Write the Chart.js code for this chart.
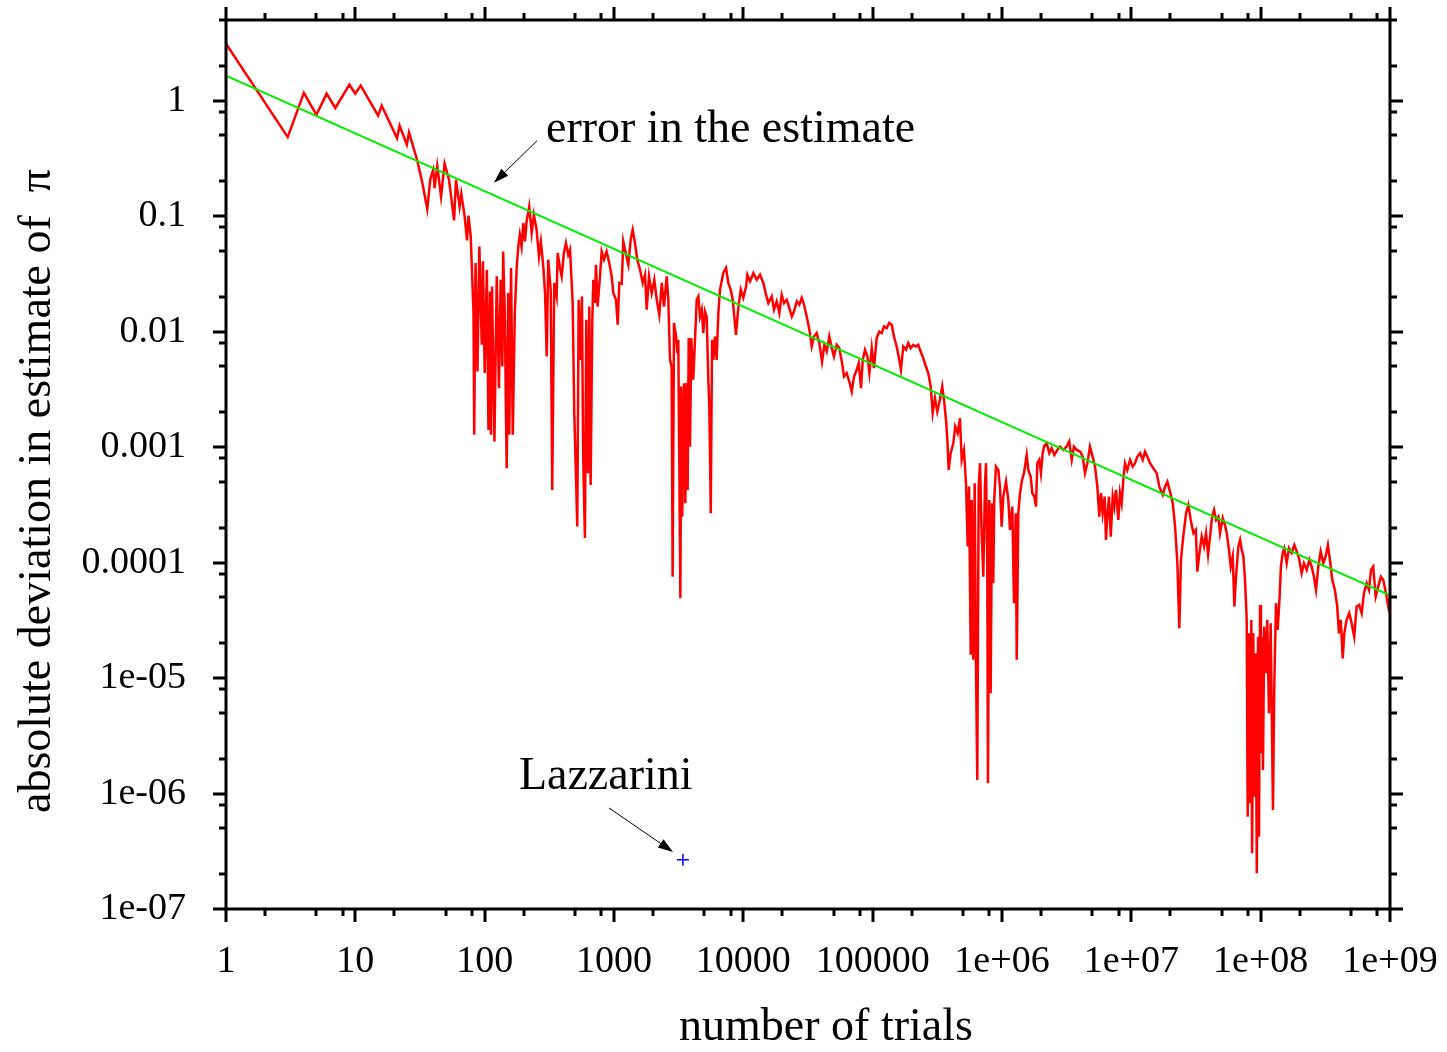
<!DOCTYPE html>
<html>
<head>
<meta charset="utf-8">
<script src="https://cdn.jsdelivr.net/npm/chart.js@4.4.0/dist/chart.umd.min.js"></script>
<style>
  html, body { margin: 0; padding: 0; background: #fff; }
</style>
</head>
<body>
<canvas id="myChart" width="1447" height="1052"></canvas>
<script>
// 試行回数と誤差
const trials = [
  1, 3, 4, 5, 6, 7, 9, 10, 11, 15,
  16, 21, 22, 25, 26, 30, 33, 36, 38, 40,
  41, 43, 46, 49, 53, 58, 60, 64, 66, 70,
  73, 75, 78, 82, 83, 85, 88, 91, 95, 97,
  100, 104, 107, 110, 112, 114, 119, 124, 129, 133,
  137, 139, 143, 148, 152, 155, 160, 165, 171, 177,
  182, 187, 193, 199, 205, 211, 221, 231, 240, 252,
  263, 272, 284, 293, 302, 310, 324, 333, 345, 360,
  367, 382, 394, 410, 425, 443, 457, 479, 493, 505,
  520, 533, 552, 565, 578, 596, 610, 629, 644, 660,
  679, 692, 713, 725, 747, 779, 803, 837, 877, 919,
  960, 987, 1036, 1068, 1099, 1147, 1180, 1232, 1290, 1346,
  1395, 1453, 1514, 1589, 1667, 1737, 1790, 1865, 1957, 2050,
  2140, 2240, 2340, 2436, 2555, 2630, 2710, 2790, 2840, 2910,
  3020, 3090, 3140, 3200, 3260, 3310, 3370, 3480, 3560, 3650,
  3710, 3780, 3870, 3960, 4100, 4230, 4360, 4490, 4620, 4770,
  4900, 5050, 5210, 5360, 5460, 5600, 5730, 5860, 6040, 6220,
  6410, 6600, 7000, 7350, 7650, 7990, 8280, 8770, 9140, 9550,
  10000, 10490, 10740, 11270, 11950, 12700, 13460, 14280, 14980, 15610,
  16580, 17270, 18100, 19000, 19800, 20640, 21660, 22700, 23700, 24660,
  25900, 27100, 28300, 29500, 30900, 32400, 33800, 35200, 36900, 38700,
  40600, 42300, 44200, 46200, 48300, 50200, 52700, 55200, 58000, 60000,
  63000, 66000, 68900, 71800, 75300, 78000, 81300, 83800, 87300, 91000,
  94300, 98400, 102300, 107400, 112500, 117400, 122300, 128300, 134300, 140300,
  146100, 153300, 160600, 165500, 172400, 181000, 188500, 196700, 206000, 216000,
  225000, 235000, 246000, 258000, 269000, 281000, 291000, 303000, 316000, 331000,
  345000, 356000, 369000, 378000, 387000, 401000, 420000, 435000, 454000, 473000,
  488000, 508000, 527000, 543000, 556000, 573000, 583000, 600000, 615000, 629000,
  644000, 660000, 676000, 696000, 717000, 738000, 752000, 769000, 779000, 797000,
  817000, 837000, 856000, 871000, 898000, 936000, 964000, 994000, 1.023e6, 1.074e6,
  1.119e6, 1.153e6, 1.201e6, 1.238e6, 1.276e6, 1.3e6, 1.337e6, 1.378e6, 1.428e6, 1.479e6,
  1.552e6, 1.597e6, 1.667e6, 1.715e6, 1.778e6, 1.832e6, 1.875e6, 1.942e6, 2.0e6, 2.064e6,
  2.11e6, 2.216e6, 2.32e6, 2.42e6, 2.54e6, 2.68e6, 2.81e6, 2.98e6, 3.16e6, 3.31e6,
  3.46e6, 3.6e6, 3.78e6, 4.01e6, 4.21e6, 4.38e6, 4.57e6, 4.79e6, 5.02e6, 5.24e6,
  5.46e6, 5.65e6, 5.83e6, 6.0e6, 6.22e6, 6.37e6, 6.52e6, 6.72e6, 6.93e6, 7.18e6,
  7.38e6, 7.61e6, 7.93e6, 8.17e6, 8.42e6, 8.67e6, 8.93e6, 9.31e6, 9.77e6, 1.025e7,
  1.068e7, 1.113e7, 1.168e7, 1.225e7, 1.276e7, 1.33e7, 1.395e7, 1.479e7, 1.572e7, 1.646e7,
  1.749e7, 1.822e7, 1.9e7, 1.99e7, 2.09e7, 2.18e7, 2.27e7, 2.35e7, 2.42e7, 2.52e7,
  2.65e7, 2.76e7, 2.88e7, 3.02e7, 3.15e7, 3.24e7, 3.36e7, 3.5e7, 3.65e7, 3.78e7,
  3.92e7, 4.06e7, 4.21e7, 4.36e7, 4.52e7, 4.71e7, 4.85e7, 5.09e7, 5.3e7, 5.47e7,
  5.69e7, 5.87e7, 6.08e7, 6.26e7, 6.45e7, 6.72e7, 6.93e7, 7.14e7, 7.35e7, 7.57e7,
  7.8e7, 7.94e7, 8.13e7, 8.28e7, 8.47e7, 8.58e7, 8.77e7, 8.93e7, 9.16e7, 9.33e7,
  9.55e7, 9.71e7, 9.89e7, 1.005e8, 1.023e8, 1.042e8, 1.066e8, 1.099e8, 1.125e8, 1.159e8,
  1.195e8, 1.223e8, 1.245e8, 1.274e8, 1.313e8, 1.353e8, 1.393e8, 1.435e8, 1.479e8, 1.522e8,
  1.589e8, 1.655e8, 1.737e8, 1.82e8, 1.9e8, 1.98e8, 2.075e8, 2.16e8, 2.27e8, 2.38e8,
  2.48e8, 2.58e8, 2.68e8, 2.79e8, 2.91e8, 3.05e8, 3.18e8, 3.31e8, 3.43e8, 3.58e8,
  3.75e8, 3.91e8, 4.03e8, 4.16e8, 4.31e8, 4.43e8, 4.62e8, 4.84e8, 5.05e8, 5.29e8,
  5.52e8, 5.78e8, 6.04e8, 6.29e8, 6.6e8, 6.88e8, 7.13e8, 7.42e8, 7.75e8, 8.11e8,
  8.51e8, 8.87e8, 9.31e8, 9.7e8, 1e9
];
const errors = [
  3.12, 0.484, 1.17, 0.756, 1.15, 0.865, 1.376, 1.15, 1.35, 0.742,
  0.905, 0.475, 0.607, 0.416, 0.531, 0.308, 0.194, 0.115, 0.21, 0.252,
  0.175, 0.273, 0.148, 0.285, 0.207, 0.092, 0.207, 0.121, 0.156, 0.0995,
  0.0616, 0.101, 0.0668, 0.0146, 0.00128, 0.0393, 0.00452, 0.0547, 0.00769, 0.0406,
  0.00438, 0.0344, 0.00141, 0.0223, 0.00128, 0.0246, 0.00112, 0.0301, 0.00324, 0.0282,
  0.00499, 0.0495, 0.0145, 0.000657, 0.0216, 0.00128, 0.0356, 0.00128, 0.0145, 0.0367,
  0.0547, 0.0691, 0.0547, 0.0873, 0.0604, 0.0901, 0.121, 0.0715, 0.103, 0.0763,
  0.0448, 0.0604, 0.0367, 0.0216, 0.0061, 0.042, 0.0231, 0.000426, 0.0264, 0.0202,
  0.048, 0.0356, 0.0301, 0.048, 0.0586, 0.0464, 0.0512, 0.0177, 0.00197, 0.000726,
  0.000205, 0.0189, 0.0057, 0.0202, 0.000776, 0.000163, 0.0127, 0.000595, 0.0165, 0.000471,
  0.0119, 0.0282, 0.0177, 0.038, 0.0165, 0.0301, 0.0495, 0.042, 0.0495, 0.0393,
  0.0301, 0.0216, 0.0189, 0.0115, 0.0264, 0.026, 0.0604, 0.048, 0.038, 0.0625,
  0.0763, 0.0586, 0.042, 0.0344, 0.0264, 0.0311, 0.0155, 0.0301, 0.0216, 0.0282,
  0.0189, 0.014, 0.0264, 0.0165, 0.0301, 0.0189, 0.0057, 0.00499, 7.55e-5, 0.0119,
  0.00908, 0.00652, 0.0085, 0.000679, 4.91e-5, 0.00335, 0.00025, 0.00358, 0.000327, 0.0036,
  0.000426, 0.00879, 0.00101, 0.0088, 0.00383, 0.0085, 0.0189, 0.0202, 0.0135, 0.0155,
  0.00972, 0.015, 0.0135, 0.00383, 0.00225, 0.000268, 0.0085, 0.0057, 0.00908, 0.0057,
  0.0145, 0.0231, 0.0322, 0.0356, 0.0264, 0.0231, 0.0189, 0.00939, 0.016, 0.0231,
  0.0196, 0.0246, 0.0311, 0.0272, 0.0322, 0.0282, 0.0311, 0.0264, 0.0209, 0.0177,
  0.0202, 0.0155, 0.0183, 0.0145, 0.0209, 0.0177, 0.0189, 0.016, 0.0135, 0.015,
  0.0183, 0.0171, 0.0196, 0.0171, 0.0135, 0.0104, 0.00744, 0.00908, 0.00972, 0.00796,
  0.00551, 0.00769, 0.00673, 0.00908, 0.0072, 0.0061, 0.00769, 0.0072, 0.00534, 0.00409,
  0.00438, 0.0037, 0.00303, 0.00409, 0.00467, 0.00534, 0.00324, 0.0057, 0.00697, 0.0061,
  0.00438, 0.0072, 0.00483, 0.00879, 0.01, 0.00972, 0.0111, 0.0107, 0.0119, 0.0115,
  0.00908, 0.00744, 0.0057, 0.00467, 0.00744, 0.00697, 0.00796, 0.0072, 0.00769, 0.00744,
  0.00769, 0.00673, 0.0059, 0.00499, 0.00438, 0.00335, 0.00197, 0.00266, 0.00203, 0.00257,
  0.00335, 0.00257, 0.00172, 0.00116, 0.000635, 0.000887, 0.00108, 0.00151, 0.00132, 0.00178,
  0.000776, 0.000946, 0.000487, 0.000138, 0.000455, 1.59e-5, 0.000349, 1.44e-5, 0.000487, 1.34e-5,
  1.31e-6, 0.000455, 0.000726, 0.00018, 7.55e-5, 0.000455, 0.000726, 0.000106, 1.23e-6, 0.000349,
  7.39e-6, 0.000327, 6.62e-5, 0.000349, 0.000679, 0.000635, 0.000455, 0.000205, 0.000373, 0.000503,
  0.000349, 0.000192, 0.000306, 4.45e-5, 0.000268, 1.44e-5, 0.000268, 0.000399, 0.00052, 0.000595,
  0.000857, 0.000635, 0.000556, 0.000399, 0.000373, 0.000306, 0.000726, 0.000776, 0.000595, 0.000887,
  0.00101, 0.00108, 0.000887, 0.00098, 0.000857, 0.000946, 0.00101, 0.000946, 0.00101, 0.00112,
  0.000776, 0.00101, 0.000946, 0.000916, 0.000828, 0.000595, 0.000726, 0.00101, 0.000828, 0.000679,
  0.000455, 0.00025, 0.000399, 0.000268, 0.000373, 0.000157, 0.00025, 0.000373, 0.000168, 0.000373,
  0.000306, 0.000426, 0.000234, 0.000399, 0.000327, 0.00052, 0.000726, 0.000635, 0.000776, 0.000679,
  0.000726, 0.000828, 0.000887, 0.000776, 0.000916, 0.000828, 0.000726, 0.000657, 0.000595, 0.000455,
  0.000386, 0.000455, 0.000503, 0.000412, 0.000327, 0.000205, 9.87e-5, 2.7e-5, 0.000106, 0.000168,
  0.000268, 0.000316, 0.000234, 0.00018, 0.000192, 8.35e-5, 0.000121, 0.000168, 0.000138, 0.00018,
  0.000117, 0.000168, 0.00025, 0.000286, 0.000234, 0.00025, 0.00018, 0.000243, 0.000212, 0.00018,
  0.000129, 9.23e-5, 0.000113, 4.16e-5, 7.55e-5, 0.000138, 0.000157, 0.000129, 0.000113, 7.08e-5,
  3.19e-5, 6.3e-7, 2.44e-5, 8.24e-7, 3.19e-5, 3.04e-7, 2.44e-5, 9.39e-7, 1.64e-5, 2.04e-7,
  2.28e-5, 4.23e-7, 4.3e-5, 2.23e-6, 2.28e-5, 1.6e-6, 2.79e-5, 1.1e-5, 3.19e-5, 4.96e-6,
  2.98e-5, 3.56e-6, 7.2e-7, 8.43e-6, 4.45e-5, 2.61e-5, 4.45e-5, 9.23e-5, 0.000121, 0.000133,
  9.87e-5, 0.000133, 0.000121, 0.000142, 0.000125, 0.000109, 8.09e-5, 9.87e-5, 8.64e-5, 0.000106,
  9.23e-5, 7.55e-5, 5.8e-5, 9.23e-5, 0.000125, 9.87e-5, 0.000113, 0.000142, 0.000106, 7.08e-5,
  5.8e-5, 4.16e-5, 2.44e-5, 3.19e-5, 1.48e-5, 2.44e-5, 3.19e-5, 3.64e-5, 2.98e-5, 2.28e-5,
  4.16e-5, 4.3e-5, 3.64e-5, 5.43e-5, 6.62e-5, 5.8e-5, 8.64e-5, 9.23e-5, 5.07e-5, 6.19e-5,
  7.55e-5, 7.08e-5, 5.43e-5, 4.16e-5, 5.07e-5
];

// 誤差の目安（緑の直線）の両端
const fitTrials = [1, 1e9];
const fitErrors = [1.65, 5.2e-5];

// Lazzarini の点
const lazzariniTrials = [3408];
const lazzariniErrors = [2.67e-7];

// 目盛り
const xTickValues = [1, 10, 100, 1000, 1e4, 1e5, 1e6, 1e7, 1e8, 1e9];
const xTickLabels = ['1', '10', '100', '1000', '10000', '100000', '1e+06', '1e+07', '1e+08', '1e+09'];
const yTickValues = [1e-7, 1e-6, 1e-5, 1e-4, 1e-3, 1e-2, 0.1, 1];
const yTickLabels = ['1e-07', '1e-06', '1e-05', '0.0001', '0.001', '0.01', '0.1', '1'];
const minorMultiples = [2, 5, 8];

const serif = '"Liberation Serif", "Times New Roman", serif';

// 注釈（データ座標）
const notes = {
  errText: { x: 298, y: 0.44, text: 'error in the estimate' },
  errArrow: { x1: 254, y1: 0.45, x2: 118, y2: 0.195 },
  lazText: { x: 184, y: 1.1e-6, text: 'Lazzarini' },
  lazArrow: { x1: 915, y1: 7.5e-7, x2: 2860, y2: 3.12e-7 }
};

const n = Math.min(trials.length, errors.length);
const redData = [];
for (let i = 0; i < n; i++) redData.push({ x: trials[i], y: errors[i] });

function drawArrow(ctx, x1, y1, x2, y2) {
  const ang = Math.atan2(y2 - y1, x2 - x1);
  const len = 15, w = 5;
  ctx.beginPath();
  ctx.moveTo(x1, y1);
  ctx.lineTo(x2 - Math.cos(ang) * len * 0.8, y2 - Math.sin(ang) * len * 0.8);
  ctx.stroke();
  ctx.beginPath();
  ctx.moveTo(x2, y2);
  ctx.lineTo(x2 - Math.cos(ang) * len + Math.sin(ang) * w, y2 - Math.sin(ang) * len - Math.cos(ang) * w);
  ctx.lineTo(x2 - Math.cos(ang) * len - Math.sin(ang) * w, y2 - Math.sin(ang) * len + Math.cos(ang) * w);
  ctx.closePath();
  ctx.fill();
}

// 枠・目盛り線・軸タイトル・注釈
const framePlugin = {
  id: 'frame',
  afterDraw(chart) {
    const ctx = chart.ctx;
    const a = chart.chartArea;
    const xs = chart.scales.x, ys = chart.scales.y;
    ctx.save();
    ctx.strokeStyle = '#000';
    ctx.fillStyle = '#000';
    ctx.lineWidth = 3;
    ctx.lineCap = 'butt';
    ctx.strokeRect(a.left, a.top, a.right - a.left, a.bottom - a.top);

    ctx.beginPath();
    xTickValues.forEach(d => {
      const marks = [[d, 13]].concat(minorMultiples.map(m => [d * m, 7]));
      marks.forEach(([v, len]) => {
        if (v > xs.max) return;
        const p = Math.round(xs.getPixelForValue(v));
        ctx.moveTo(p, a.bottom); ctx.lineTo(p, a.bottom + len);
        ctx.moveTo(p, a.top); ctx.lineTo(p, a.top - len);
      });
    });
    yTickValues.forEach(d => {
      const marks = [[d, 13]].concat(minorMultiples.map(m => [d * m, 7]));
      marks.forEach(([v, len]) => {
        if (v > ys.max * 1.0001) return;
        const p = Math.round(ys.getPixelForValue(v));
        ctx.moveTo(a.left, p); ctx.lineTo(a.left - len, p);
        ctx.moveTo(a.right, p); ctx.lineTo(a.right + len, p);
      });
    });
    ctx.stroke();

    // 軸タイトル
    ctx.font = '46px ' + serif;
    ctx.textAlign = 'center';
    ctx.textBaseline = 'middle';
    ctx.fillText('number of trials', 826, 1028);
    ctx.save();
    ctx.translate(38, 491);
    ctx.rotate(-Math.PI / 2);
    ctx.fillText('absolute deviation in estimate of  π', 0, 0);
    ctx.restore();

    // 注釈
    ctx.textAlign = 'left';
    ctx.textBaseline = 'alphabetic';
    ctx.fillText(notes.errText.text, xs.getPixelForValue(notes.errText.x), ys.getPixelForValue(notes.errText.y));
    ctx.fillText(notes.lazText.text, xs.getPixelForValue(notes.lazText.x), ys.getPixelForValue(notes.lazText.y));
    ctx.lineWidth = 1;
    [notes.errArrow, notes.lazArrow].forEach(ar => {
      drawArrow(ctx,
        xs.getPixelForValue(ar.x1), ys.getPixelForValue(ar.y1),
        xs.getPixelForValue(ar.x2), ys.getPixelForValue(ar.y2));
    });
    ctx.restore();
  }
};

let config = {
  type: 'scatter',
  data: {
    datasets: [
      {
        data: redData,
        showLine: true,
        borderColor: '#ff0000',
        borderWidth: 2.5,
        pointRadius: 0,
        tension: 0,
        order: 2
      },
      {
        data: fitTrials.map((t, i) => ({ x: t, y: fitErrors[i] })),
        showLine: true,
        borderColor: '#00ee00',
        borderWidth: 2,
        pointRadius: 0,
        order: 1
      },
      {
        data: lazzariniTrials.map((t, i) => ({ x: t, y: lazzariniErrors[i] })),
        showLine: false,
        pointStyle: 'cross',
        pointRadius: 6,
        borderColor: '#0000ff',
        borderWidth: 1.5,
        order: 0
      }
    ]
  },
  options: {
    responsive: false,
    animation: false,
    devicePixelRatio: 1,
    layout: { padding: { left: 0, right: 57, top: 20, bottom: 0 } },
    plugins: {
      legend: { display: false },
      tooltip: { enabled: false }
    },
    scales: {
      x: {
        type: 'logarithmic',
        min: 1,
        max: 1e9,
        grid: { display: false, drawTicks: false },
        border: { display: false },
        afterBuildTicks: s => { s.ticks = xTickValues.map(v => ({ value: v })); },
        afterFit: s => { s.height = 143; s.paddingLeft = 0; s.paddingRight = 0; },
        ticks: {
          autoSkip: false,
          maxRotation: 0,
          minRotation: 0,
          padding: 30,
          color: '#000',
          font: { family: serif, size: 38 },
          callback: v => xTickLabels[xTickValues.indexOf(v)]
        }
      },
      y: {
        type: 'logarithmic',
        min: 1e-7,
        max: 5,
        grid: { display: false, drawTicks: false },
        border: { display: false },
        afterBuildTicks: s => { s.ticks = yTickValues.map(v => ({ value: v })); },
        afterFit: s => { s.width = 226; s.paddingTop = 0; s.paddingBottom = 0; },
        ticks: {
          autoSkip: false,
          padding: 40,
          color: '#000',
          font: { family: serif, size: 38 },
          callback: v => yTickLabels[yTickValues.indexOf(v)]
        }
      }
    }
  },
  plugins: [framePlugin]
};

window.addEventListener('load', function() {
  let ctx = document.getElementById('myChart').getContext('2d');
  myChart = new Chart(ctx, config);
}, false);
</script>
</body>
</html>
